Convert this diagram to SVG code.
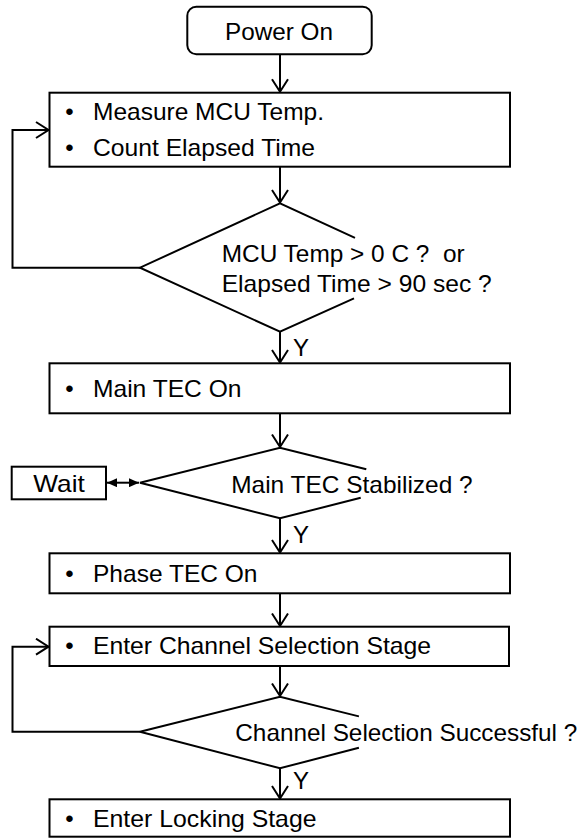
<svg xmlns="http://www.w3.org/2000/svg" width="580" height="839" viewBox="0 0 580 839">
  <style>
    .box { fill: #fff; stroke: #000; stroke-width: 2; }
    .dia { fill: none; stroke: #000; stroke-width: 2; stroke-linejoin: miter; }
    .edge { fill: none; stroke: #000; stroke-width: 2; }
    text { font-family: "Liberation Sans", Arial, sans-serif; font-size: 24px; fill: #000; }
    .mid { text-anchor: middle; }
  </style>
  <defs>
    <marker id="open" viewBox="0 0 15 18" refX="13.5" refY="9" markerWidth="15" markerHeight="18" markerUnits="userSpaceOnUse" orient="auto">
      <path d="M1,1 L13.5,9 L1,17" fill="none" stroke="#000" stroke-width="2"/>
    </marker>
    <marker id="solid" viewBox="0 0 10 9" refX="10" refY="4.5" markerWidth="10" markerHeight="9" markerUnits="userSpaceOnUse" orient="auto-start-reverse">
      <path d="M0,0 L10,4.5 L0,9 Z" fill="#000"/>
    </marker>
  </defs>

  <!-- connectors -->
  <g id="connectors">
    <path class="edge" d="M280,54.3 V91.7" marker-end="url(#open)"/>
    <path class="edge" d="M280,166.7 V202.5" marker-end="url(#open)"/>
    <path class="edge" d="M140,267.7 H12.5 V130 H48.5" marker-end="url(#open)"/>
    <path class="edge" d="M280,331.7 V362.5" marker-end="url(#open)"/>
    <path class="edge" d="M280,413.3 V447" marker-end="url(#open)"/>
    <path class="edge" d="M107,482.7 H139" marker-start="url(#solid)" marker-end="url(#solid)"/>
    <path class="edge" d="M280,518.3 V552.5" marker-end="url(#open)"/>
    <path class="edge" d="M280,593.3 V626" marker-end="url(#open)"/>
    <path class="edge" d="M140,731.7 H12.5 V646.7 H48.5" marker-end="url(#open)"/>
    <path class="edge" d="M280,666 V696" marker-end="url(#open)"/>
    <path class="edge" d="M280,768.3 V798.5" marker-end="url(#open)"/>
    <text x="293" y="356">Y</text>
    <text x="293" y="543">Y</text>
    <text x="293" y="788.5">Y</text>
  </g>

  <!-- start -->
  <g id="power-on">
    <rect class="box" x="187.3" y="6.7" width="184.4" height="47.6" rx="9" ry="9"/>
    <text x="225" y="40" textLength="108" lengthAdjust="spacingAndGlyphs">Power On</text>
  </g>

  <g id="measure">
    <rect class="box" x="49.5" y="92.7" width="460.5" height="74"/>
    <text class="mid" x="69.5" y="120">•</text>
    <text x="93" y="120" textLength="231" lengthAdjust="spacingAndGlyphs">Measure MCU Temp.</text>
    <text class="mid" x="69.5" y="155.7">•</text>
    <text x="93" y="155.7" textLength="222" lengthAdjust="spacingAndGlyphs">Count Elapsed Time</text>
  </g>

  <g id="check-temp">
    <path class="dia" d="M355,237.8 L280,203.3 L140,267.7 L280,331.7 L354,298.3"/>
    <text x="221.7" y="261.7" textLength="243" lengthAdjust="spacingAndGlyphs">MCU Temp &gt; 0 C ?&#160; or</text>
    <text x="221.7" y="291.7" textLength="270" lengthAdjust="spacingAndGlyphs">Elapsed Time &gt; 90 sec ?</text>
  </g>

  <g id="main-tec">
    <rect class="box" x="49.5" y="363.3" width="460.5" height="50"/>
    <text class="mid" x="69.5" y="397.3">•</text>
    <text x="93" y="397.3" textLength="148.5" lengthAdjust="spacingAndGlyphs">Main TEC On</text>
  </g>

  <g id="check-stable">
    <path class="dia" d="M366.3,469.3 L280,447.7 L140,482.7 L280,518.3 L360.7,497.8"/>
    <text x="231.2" y="492.7" textLength="241.5" lengthAdjust="spacingAndGlyphs">Main TEC Stabilized ?</text>
  </g>

  <g id="wait">
    <rect class="box" x="11.7" y="466.7" width="94.3" height="32.6"/>
    <text x="33.3" y="491.5" textLength="51.5" lengthAdjust="spacingAndGlyphs">Wait</text>
  </g>

  <g id="phase-tec">
    <rect class="box" x="49.5" y="553.3" width="460.5" height="40"/>
    <text class="mid" x="69.5" y="581.7">•</text>
    <text x="93" y="581.7" textLength="164.5" lengthAdjust="spacingAndGlyphs">Phase TEC On</text>
  </g>

  <g id="channel-select">
    <rect class="box" x="49.5" y="626.7" width="459.5" height="39.3"/>
    <text class="mid" x="69.5" y="654.3">•</text>
    <text x="93" y="654.3" textLength="338" lengthAdjust="spacingAndGlyphs">Enter Channel Selection Stage</text>
  </g>

  <g id="check-channel">
    <path class="dia" d="M358.9,716.4 L280,696.7 L140,731.7 L280,768.3 L358.9,747.7"/>
    <text x="235.3" y="741" textLength="342" lengthAdjust="spacingAndGlyphs">Channel Selection Successful ?</text>
  </g>

  <g id="locking">
    <rect class="box" x="49.5" y="799.3" width="460.5" height="37.4"/>
    <text class="mid" x="69.5" y="826.7">•</text>
    <text x="93" y="826.7" textLength="223.5" lengthAdjust="spacingAndGlyphs">Enter Locking Stage</text>
  </g>
</svg>
